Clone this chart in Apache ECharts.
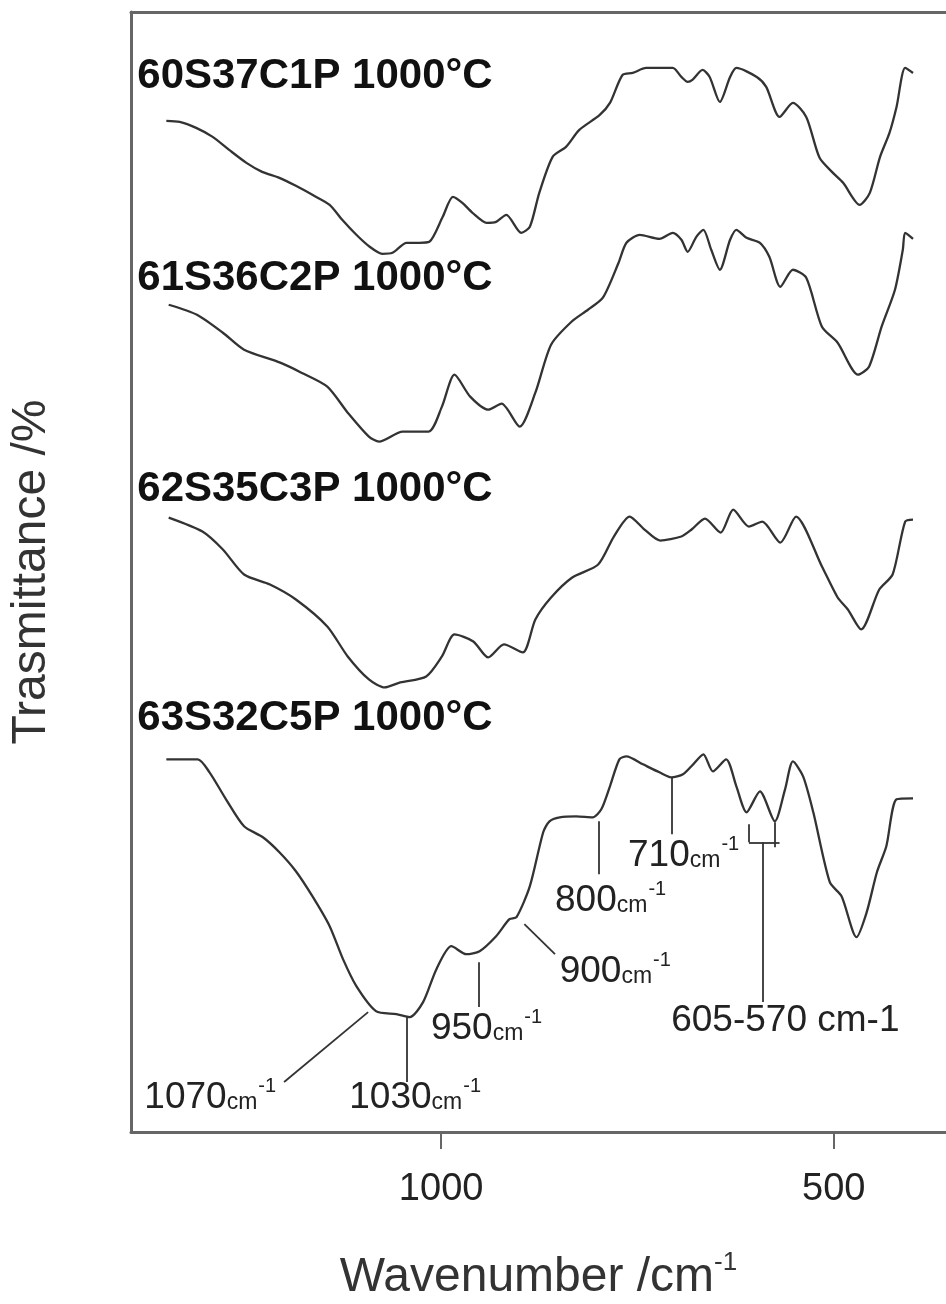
<!DOCTYPE html>
<html>
<head>
<meta charset="utf-8">
<script src="https://cdn.jsdelivr.net/npm/echarts/dist/echarts.min.js"></script>
<style>
html,body{margin:0;padding:0;background:#fff;}
#chart{width:946px;height:1304px;}
</style>
</head>
<body>
<div id="chart"></div>
<script>
// ---- Data (wavenumber in cm-1, transmittance in arbitrary offset units) ----
const sampleNames = ['60S37C1P 1000°C', '61S36C2P 1000°C', '62S35C3P 1000°C', '63S32C5P 1000°C'];

const wn1 = [1350,1333,1312,1291,1270,1248,1228,1206,1185,1164,1142,1126,1108,1091,1075,1062,1044,1028,1015,998,985,973,960,942,930,917,898,887,875,858,841,824,798,785,769,756,739,705,694,686,680,667,658,645,632,624,598,586,569,552,535,518,501,488,467,454,441,429,420,409,399];
const t1  = [1012,1011,1005,996,983,970,961,955,947,938,928,913,898,886,879,880,890,890,891,916,936,930,920,910,911,918,900,906,940,976,986,1003,1018,1030,1058,1060,1065,1065,1056,1051,1053,1063,1056,1031,1056,1065,1056,1046,1016,1030,1016,975,960,950,928,940,976,1000,1026,1065,1060];

const wn2 = [1347,1311,1278,1251,1205,1178,1145,1119,1092,1079,1049,1016,999,983,963,940,923,900,880,860,834,813,794,774,764,747,722,705,694,686,675,666,656,645,632,624,611,594,582,568,552,535,515,495,469,455,439,422,412,409,399];
const t2  = [828,818,800,783,770,760,746,720,696,691,701,701,726,758,736,723,729,706,740,788,811,823,835,870,890,898,894,900,893,881,896,903,883,863,893,903,895,890,876,846,863,855,806,790,758,766,806,843,883,900,894];

const wn3 = [1347,1304,1278,1251,1218,1185,1145,1119,1092,1072,1052,1019,999,983,959,940,920,896,880,860,833,800,780,760,741,721,694,681,664,644,628,608,591,568,548,515,495,482,465,442,425,409,399];
const t3  = [615,601,583,558,548,533,506,476,453,445,450,456,476,498,491,475,488,480,513,535,555,568,596,616,603,592,596,603,614,600,623,606,611,590,616,566,535,523,503,543,558,611,613];

const wn4 = [1350,1310,1295,1274,1251,1227,1206,1185,1164,1142,1125,1108,1083,1057,1040,1023,1006,987,968,951,930,913,904,887,870,862,849,828,807,796,785,773,764,743,722,707,692,679,666,654,637,624,611,594,575,562,552,539,526,505,490,471,458,445,433,420,399];
const t4  = [373,373,360,333,306,295,280,261,236,206,173,146,121,118,115,130,163,186,178,181,196,213,215,246,300,311,315,316,315,323,346,373,376,368,360,355,358,368,378,361,373,346,320,341,311,343,371,356,320,250,236,195,220,260,286,333,334];

const xTicks = [1000, 500];

// Band annotations on the 63S32C5P spectrum: leader segments [from, to] and labels
const leaderSegments = [
  [[1093,120],[1200,50]],
  [[1044,115],[1044,50]],
  [[952,170],[952,125]],
  [[894,208],[855,178]],
  [[799,311],[799,258]],
  [[706,355],[706,298]],
  [[608,308],[608,290]],
  [[575,310],[575,285]],
  [[608,290],[569,290]],
  [[591,290],[591,130]]
];
const bandLabels = [
  {num:'1070', unit:'cm', sup:'-1', at:[1378,36]},
  {num:'1030', unit:'cm', sup:'-1', at:[1117,36]},
  {num:'950',  unit:'cm', sup:'-1', at:[1013,105]},
  {num:'900',  unit:'cm', sup:'-1', at:[849,162]},
  {num:'800',  unit:'cm', sup:'-1', at:[855,233]},
  {num:'710',  unit:'cm', sup:'-1', at:[762,278]},
  {num:'605-570 cm-1', unit:'', sup:'', at:[707,113]}
];
const sampleLabelAt = [[1387,1057],[1387,854],[1387,643],[1387,414]];

// ---- Chart ----
const FONT = '"Liberation Sans", Arial, Helvetica, sans-serif';
const lineColor = '#333';
const axisColor = '#666';

function zip(a, b){ return a.map((v,i)=>[v,b[i]]); }

const curves = [zip(wn1,t1), zip(wn2,t2), zip(wn3,t3), zip(wn4,t4)];

const series = curves.map((d, i) => {
  const s = {
    type: 'line',
    name: sampleNames[i],
    data: d,
    showSymbol: false,
    smooth: 0.25,
    lineStyle: {color: lineColor, width: 2.3},
    itemStyle: {color: lineColor},
    silent: true,
    animation: false,
    markPoint: {
      silent: true,
      animation: false,
      symbol: 'circle',
      symbolSize: 0,
      data: [{
        coord: sampleLabelAt[i],
        value: sampleNames[i],
        label: {
          show: true,
          position: 'inside',
          align: 'left',
          verticalAlign: 'middle',
          formatter: sampleNames[i],
          fontFamily: FONT,
          fontWeight: 'bold',
          fontSize: 42,
          color: '#111'
        }
      }]
    }
  };
  if (i === 3) {
    s.markLine = {
      silent: true,
      animation: false,
      symbol: ['none','none'],
      label: {show: false},
      lineStyle: {color: '#333', width: 1.8, type: 'solid'},
      data: leaderSegments.map(seg => [{coord: seg[0]}, {coord: seg[1]}])
    };
    s.markPoint.data = s.markPoint.data.concat(bandLabels.map(b => ({
      coord: b.at,
      value: b.num,
      label: {
        show: true,
        position: 'inside',
        align: 'left',
        verticalAlign: 'middle',
        formatter: b.unit ? '{n|' + b.num + '}{u|' + b.unit + '}{s|' + b.sup + '}' : '{n|' + b.num + '}',
        rich: {
          n: {fontFamily: FONT, fontSize: 37, color: '#222', lineHeight: 40, verticalAlign: 'bottom'},
          u: {fontFamily: FONT, fontSize: 23, color: '#222', lineHeight: 40, verticalAlign: 'bottom', padding:[0,0,2,0]},
          s: {fontFamily: FONT, fontSize: 20, color: '#222', lineHeight: 40, verticalAlign: 'top', padding:[0,0,0,1]}
        }
      }
    })));
  }
  return s;
});

const chart = echarts.init(document.getElementById('chart'), null, {renderer: 'canvas'});
chart.setOption({
  animation: false,
  backgroundColor: '#fff',
  grid: {left: 131, right: 0, top: 12, bottom: 172, containLabel: false, outerBoundsMode: 'none'},
  xAxis: [{
    type: 'value',
    inverse: true,
    min: 357,
    max: 1395,
    position: 'bottom',
    axisLine: {show: true, lineStyle: {color: axisColor, width: 3}},
    axisTick: {show: true, customValues: xTicks, length: 17, lineStyle: {color: axisColor, width: 2}},
    axisLabel: {show: true, customValues: xTicks, margin: 39, fontFamily: FONT, fontSize: 38, color: '#222',
      formatter: v => String(v)},
    splitLine: {show: false},
    name: '{a|Wavenumber /cm}{b|-1}',
    nameLocation: 'middle',
    nameGap: 118,
    nameTextStyle: {
      rich: {
        a: {fontFamily: FONT, fontSize: 48, color: '#333', lineHeight: 52, verticalAlign: 'bottom'},
        b: {fontFamily: FONT, fontSize: 26, color: '#333', lineHeight: 52, verticalAlign: 'top'}
      }
    }
  }, {
    type: 'value',
    inverse: true,
    min: 357,
    max: 1395,
    position: 'top',
    axisLine: {show: true, lineStyle: {color: axisColor, width: 3}},
    axisTick: {show: false},
    axisLabel: {show: false},
    splitLine: {show: false}
  }],
  yAxis: {
    type: 'value',
    min: 0,
    max: 1121,
    axisLine: {show: true, lineStyle: {color: axisColor, width: 3}},
    axisTick: {show: false},
    axisLabel: {show: false},
    splitLine: {show: false},
    name: 'Trasmittance /%',
    nameLocation: 'middle',
    nameRotate: 90,
    nameGap: 75,
    nameTextStyle: {fontFamily: FONT, fontSize: 48, color: '#333'}
  },
  series: series
});
</script>
</body>
</html>
